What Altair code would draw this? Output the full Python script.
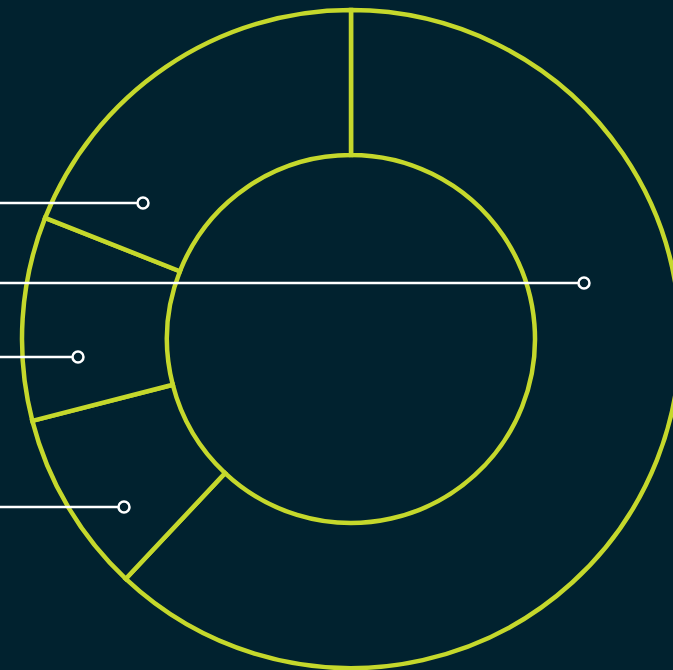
import altair as alt
import pandas as pd

# Donut segments (clockwise from 12 o'clock)
segments = ["Segment A", "Segment B", "Segment C", "Segment D"]
shares = [62, 9, 10, 19]
order_idx = [0, 1, 2, 3]

# Leader lines (pixel-space coordinates of the plot area)
leader_names = ["Segment D", "Segment A", "Segment C", "Segment B"]
leader_y = [203, 283, 357, 507]
leader_x_start = [0, 0, 0, 0]
leader_x_end = [143, 584, 78, 124]

BG = "#01222f"
LIME = "#c5d82c"
W, H = 673, 670

seg_df = pd.DataFrame({"segment": segments, "share": shares, "idx": order_idx})
lead_df = pd.DataFrame({"segment": leader_names, "y": leader_y,
                        "x0": leader_x_start, "x1": leader_x_end})

xs = alt.Scale(domain=[0, W], range=[0, W], nice=False, zero=False)
ys = alt.Scale(domain=[0, H], range=[0, H], nice=False, zero=False)

donut = alt.Chart(seg_df).mark_arc(
    outerRadius=329, innerRadius=184, x=351, y=339,
    fill=BG, stroke=LIME, strokeWidth=4.5, strokeJoin="miter"
).encode(
    theta=alt.Theta("share:Q", stack=True),
    order=alt.Order("idx:Q", sort="ascending"),
)

rules = alt.Chart(lead_df).mark_rule(color="white", strokeWidth=2.5).encode(
    x=alt.X("x0:Q", scale=xs, axis=None),
    x2="x1:Q",
    y=alt.Y("y:Q", scale=ys, axis=None),
)

dots = alt.Chart(lead_df).mark_point(
    shape="circle", size=120, filled=True, fill=BG, stroke="white", strokeWidth=2.5, opacity=1
).encode(
    x=alt.X("x1:Q", scale=xs, axis=None),
    y=alt.Y("y:Q", scale=ys, axis=None),
)

chart = alt.layer(donut, rules, dots).properties(
    width=W, height=H, background=BG, padding=0,
    autosize=alt.AutoSizeParams(type="none"),
).configure_view(stroke=None)

chart.save("out.html", embed_options={"renderer": "svg", "actions": False})
